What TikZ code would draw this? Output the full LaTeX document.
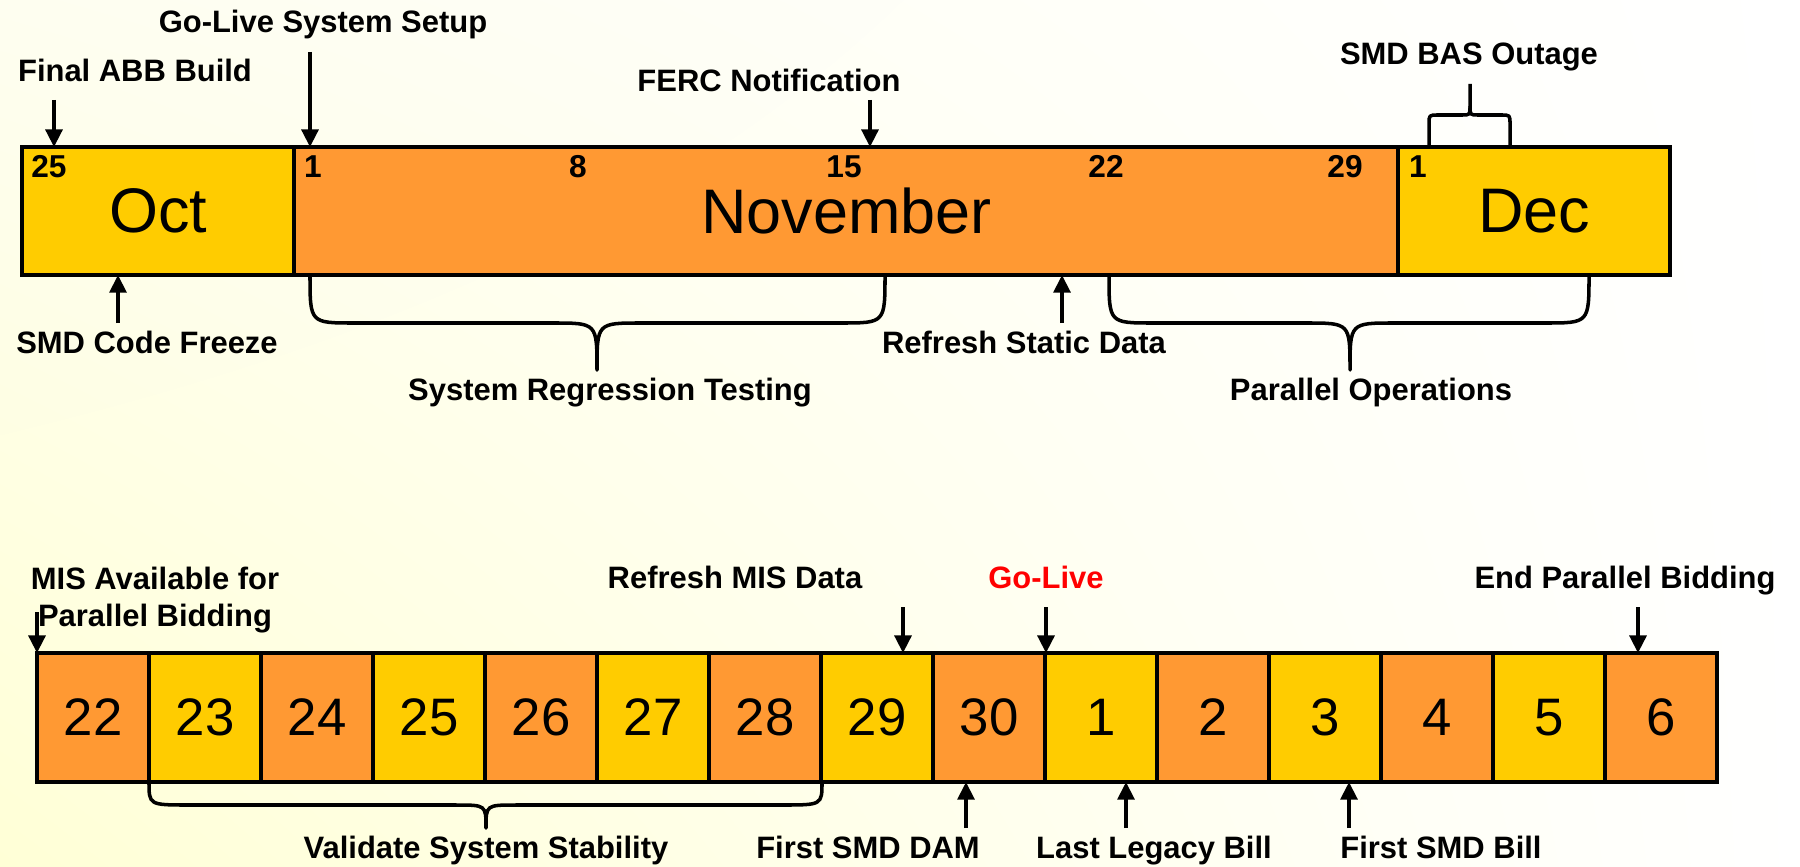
\documentclass[tikz,border=0pt]{standalone}
\usepackage{fontspec}
\setmainfont{Liberation Sans}
\usetikzlibrary{arrows.meta, shadings}
\definecolor{monthorange}{HTML}{FF9933}
\definecolor{monthyellow}{HTML}{FFCC00}
\definecolor{bgyellow}{HTML}{FFFFD6}
\definecolor{bgpale}{HTML}{FEFEF0}
\definecolor{golive}{HTML}{FF0000}

\begin{document}
\begin{tikzpicture}[
    % GLOBAL CFG (one unit = one pixel of the reference)
    x=0.01cm, y=-0.01cm,
    % Styles
    month/.style={% For the month boxes of the top bar
        rectangle,
        draw,
        line width=1.15pt,
        inner sep=0pt,
        outer sep=0pt,
        anchor=north west,
        minimum height=1.28cm,
        font=\fontsize{17.9}{20}\selectfont,
    },
    day/.style={% For the day boxes of the bottom bar
        rectangle,
        draw,
        line width=1.15pt,
        inner sep=0pt,
        outer sep=0pt,
        anchor=north west,
        minimum width=1.12cm,
        minimum height=1.29cm,
        font=\fontsize{15}{17}\selectfont,
    },
    daynum/.style={% For the small dates inside the month boxes
        font=\fontsize{9}{10}\selectfont\bfseries,
        anchor=base,
        inner sep=0pt,
    },
    mylabel/.style={% For the milestone texts
        font=\fontsize{8.8}{10.5}\selectfont\bfseries,
        anchor=base,
        inner sep=0pt,
        align=center,
    },
    ArrowD/.style={% Milestone arrows
        -{Triangle[length=5pt,width=4.8pt]},
        line width=1pt,
    },
    Brace/.style={% Curly braces under and over the bars
        line width=1pt,
        line join=round,
    },
    ]
    % Background
    \shade[lower left=bgyellow, upper left=bgpale, upper right=white, lower right=white]
        (0,0) rectangle (1800,867);
    \useasboundingbox (0,0) rectangle (1800,867);

    % Draw top bar named oct, nov, dec
    \node [month, fill=monthyellow, minimum width=2.72cm] (oct) at (22,147) {Oct};
    \node [month, fill=monthorange, minimum width=11.04cm] (nov) at (294,147) {November};
    \node [month, fill=monthyellow, minimum width=2.72cm] (dec) at (1398,147) {Dec};

    % Dates inside the months
    \node [daynum] (oct25) at (49,178) {25};
    \foreach \d/\x in {1/313, 8/578, 15/844, 22/1106, 29/1345}
        \node [daynum] (nov\d) at (\x,178) {\d};
    \node [daynum] (dec1) at (1418,178) {1};

    % Draw bottom bar named day#
    \foreach \d/\c [count=\i from 0] in {22/monthorange, 23/monthyellow, 24/monthorange,
            25/monthyellow, 26/monthorange, 27/monthyellow, 28/monthorange, 29/monthyellow,
            30/monthorange, 1/monthyellow, 2/monthorange, 3/monthyellow, 4/monthorange,
            5/monthyellow, 6/monthorange}
        \node [day, fill=\c] (day\d) at ({37+112*\i},653) {\d};

    % Labels of the top bar
    \node [mylabel] (abb) at (135,82) {Final ABB Build};
    \node [mylabel] (setup) at (323,33) {Go-Live System Setup};
    \node [mylabel] (ferc) at (769,92) {FERC Notification};
    \node [mylabel] (bas) at (1469,65) {SMD BAS Outage};
    \node [mylabel] (freeze) at (147,353) {SMD Code Freeze};
    \node [mylabel] (static) at (1024,353) {Refresh Static Data};
    \node [mylabel] (regression) at (610,400) {System Regression Testing};
    \node [mylabel] (parallel) at (1371,400) {Parallel Operations};

    % Labels of the bottom bar
    \node [mylabel, anchor=north] (mis) at (155,566) {MIS Available for\\Parallel Bidding};
    \node [mylabel] (misdata) at (735,588) {Refresh MIS Data};
    \node [mylabel, text=golive] (live) at (1046,588) {Go-Live};
    \node [mylabel] (endbid) at (1625,588) {End Parallel Bidding};
    \node [mylabel] (stability) at (486,858) {Validate System Stability};
    \node [mylabel] (dam) at (868,858) {First SMD DAM};
    \node [mylabel] (legacy) at (1154,858) {Last Legacy Bill};
    \node [mylabel] (smdbill) at (1441,858) {First SMD Bill};

    % Free ends of the arrows
    \coordinate (abbtail) at (54,100);
    \coordinate (setuptail) at (310,52);
    \coordinate (ferctail) at (870,100);
    \coordinate (freezetail) at (118,323);
    \coordinate (statictail) at (1062,323);
    \coordinate (mistail) at (37,612);
    \coordinate (misdatatail) at (903,607);
    \coordinate (livetail) at (1046,607);
    \coordinate (endbidtail) at (1638,607);
    \coordinate (damtail) at (966,828);
    \coordinate (legacytail) at (1126,828);
    \coordinate (smdbilltail) at (1349,828);

    % Arrows onto the top bar
    \draw [ArrowD] (abbtail) -- (abbtail |- oct.north);
    \draw [ArrowD] (setuptail) -- (setuptail |- nov.north);
    \draw [ArrowD] (ferctail) -- (ferctail |- nov.north);
    \draw [ArrowD] (freezetail) -- (freezetail |- oct.south);
    \draw [ArrowD] (statictail) -- (statictail |- nov.south);

    % Arrows onto the bottom bar
    \draw [ArrowD] (mistail) -- (mistail |- day22.north);
    \draw [ArrowD] (misdatatail) -- (misdatatail |- day29.north);
    \draw [ArrowD] (livetail) -- (livetail |- day1.north);
    \draw [ArrowD] (endbidtail) -- (endbidtail |- day6.north);
    \draw [ArrowD] (damtail) -- (damtail |- day30.south);
    \draw [ArrowD] (legacytail) -- (legacytail |- day1.south);
    \draw [ArrowD] (smdbilltail) -- (smdbilltail |- day3.south);

    % Braces
    \draw [Brace] (1429,147) -- (1429,124) .. controls (1429,115) .. (1438,115)
        -- (1462,115) .. controls (1470,115) .. (1470,106) -- (1470,84);
    \draw [Brace] (1510,147) -- (1510,124) .. controls (1510,115) .. (1501,115)
        -- (1478,115) .. controls (1470,115) .. (1470,106);
    \draw [Brace] (310,275) .. controls (310,323) .. (354,323) -- (553,323)
        .. controls (597,323) .. (597,370) .. controls (597,323) .. (641,323)
        -- (841,323) .. controls (885,323) .. (885,275);
    \draw [Brace] (1109,275) .. controls (1109,323) .. (1153,323) -- (1306,323)
        .. controls (1350,323) .. (1350,370) .. controls (1350,323) .. (1394,323)
        -- (1545,323) .. controls (1589,323) .. (1589,275);
    \draw [Brace] (149,782) .. controls (149,805) .. (189,805) -- (456,805)
        .. controls (486,805) .. (486,828) .. controls (486,805) .. (516,805)
        -- (782,805) .. controls (822,805) .. (822,782);

\end{tikzpicture}
\end{document}
